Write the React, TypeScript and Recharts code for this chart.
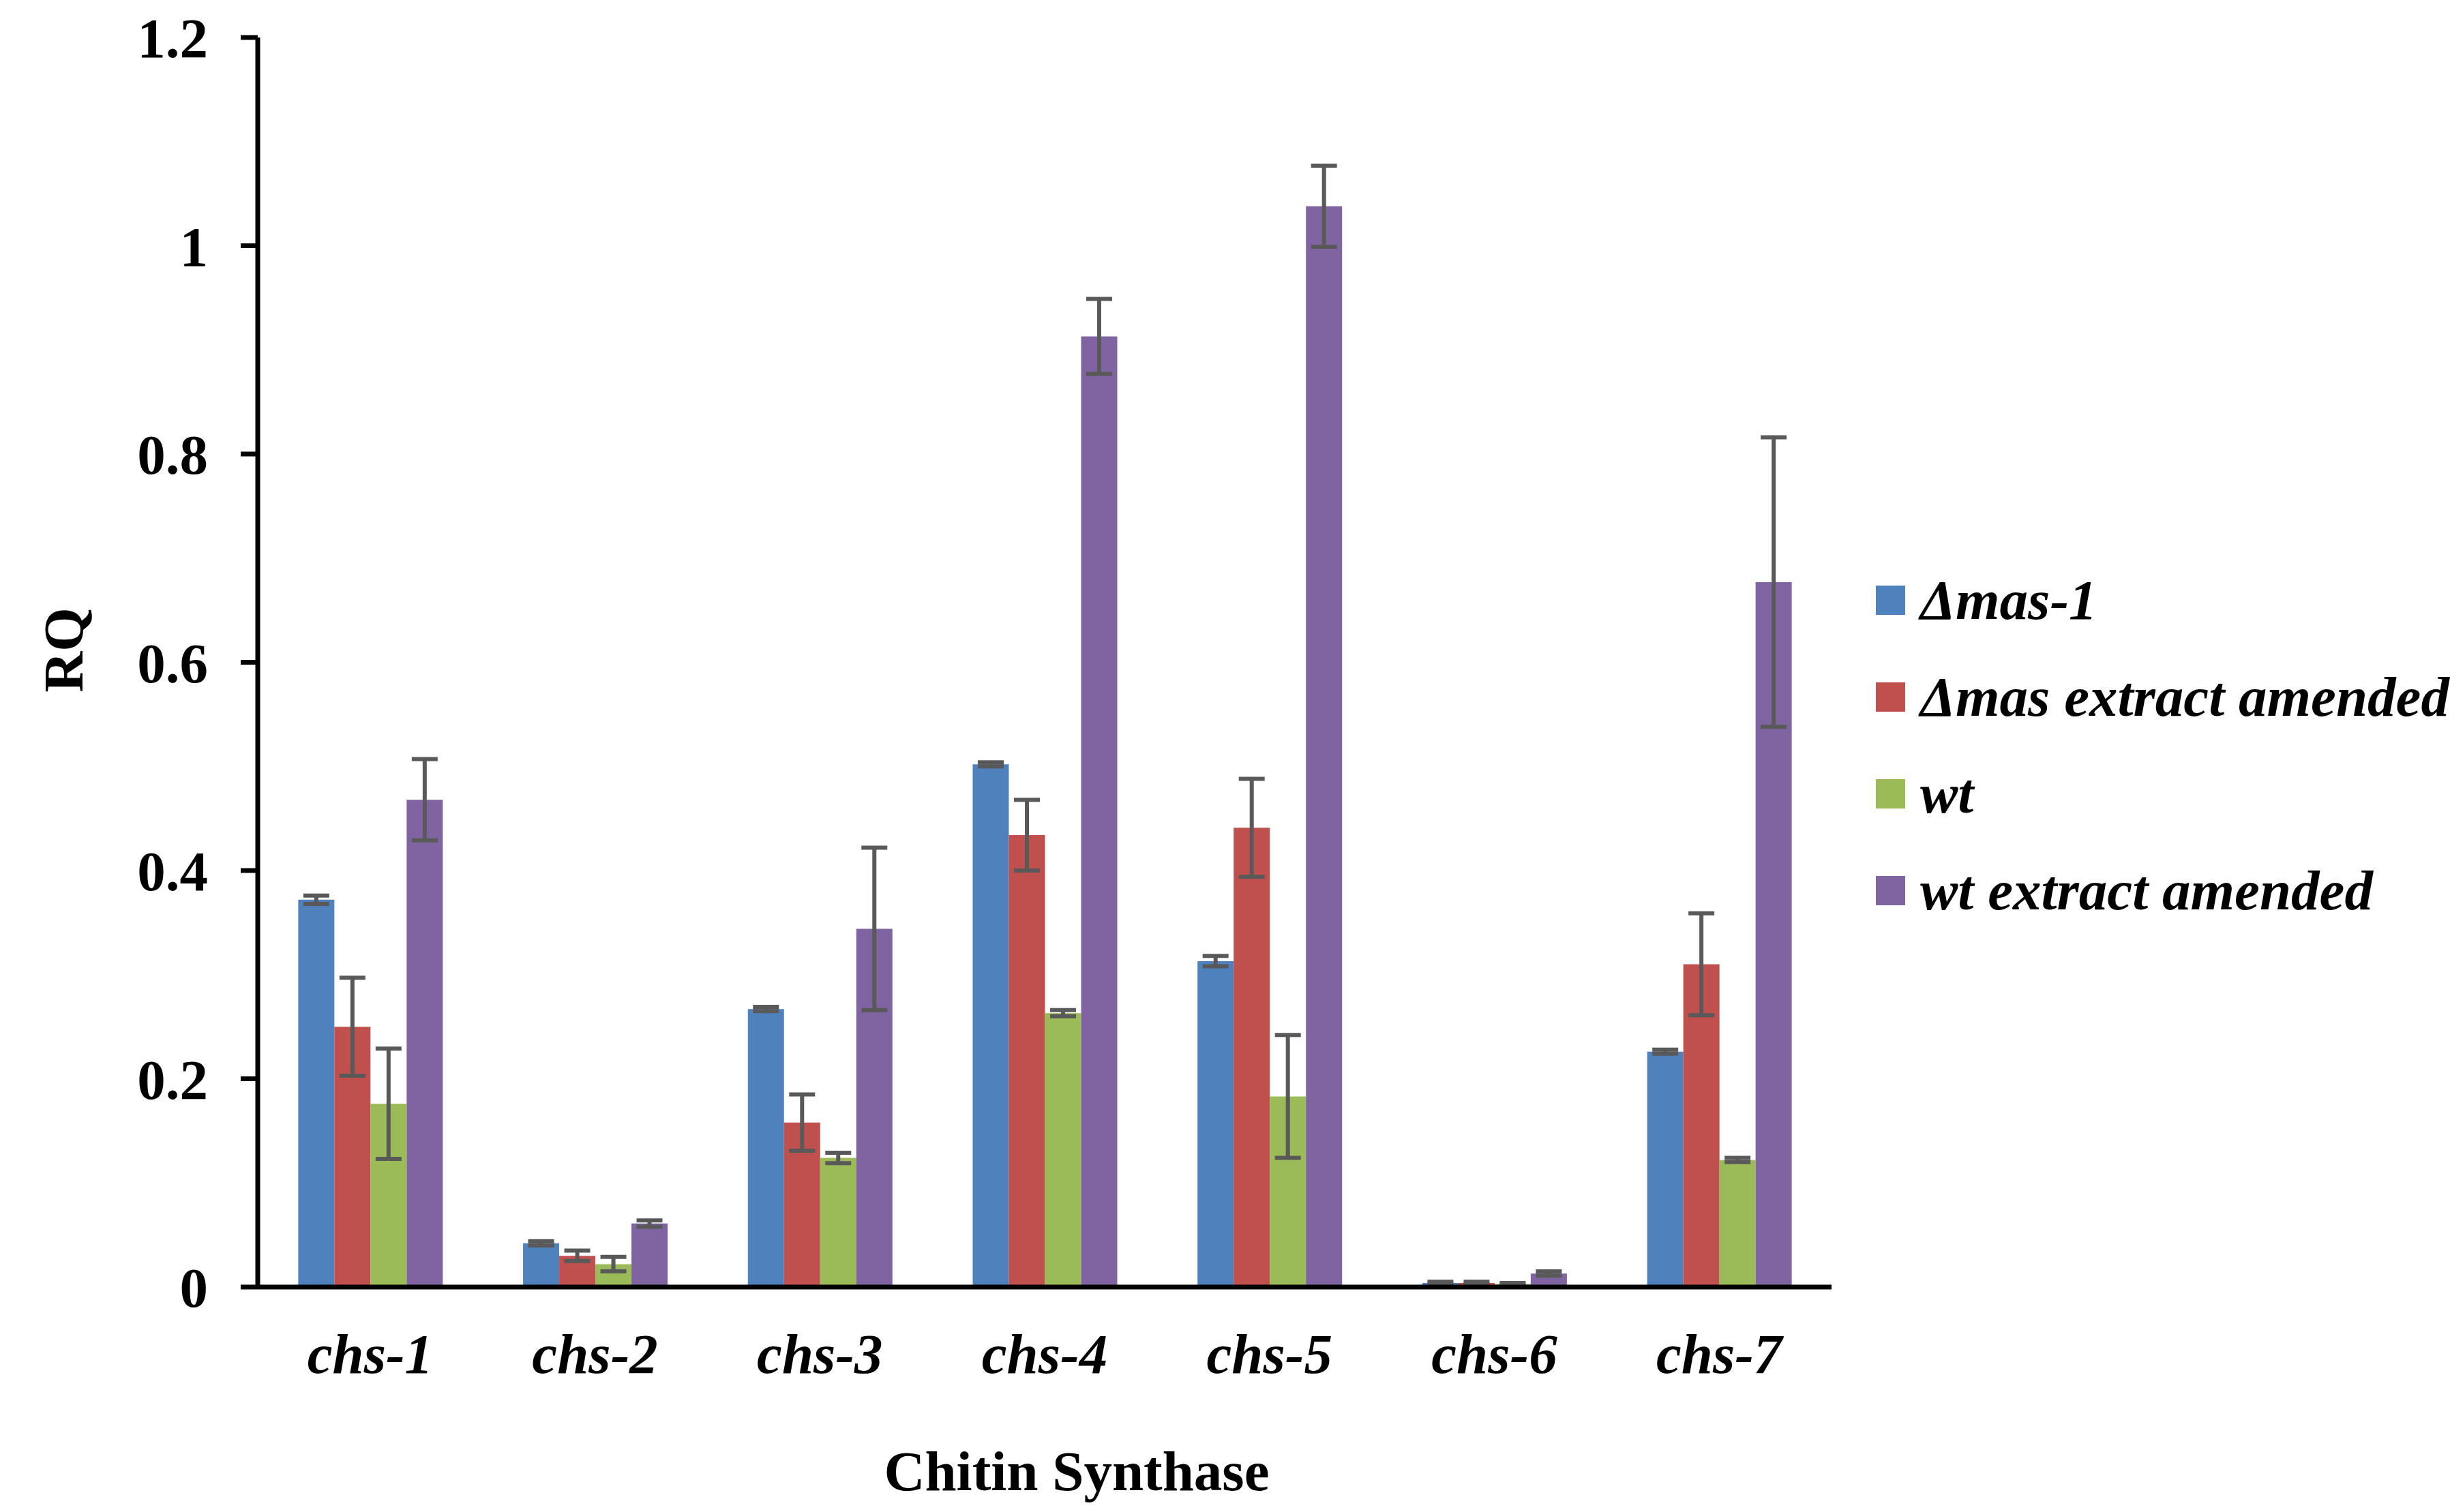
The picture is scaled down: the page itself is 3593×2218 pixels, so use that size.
import React from 'react';
import { BarChart, Bar, XAxis, YAxis, ErrorBar, Legend } from 'recharts';

const categories = ['chs-1', 'chs-2', 'chs-3', 'chs-4', 'chs-5', 'chs-6', 'chs-7'];

const seriesNames = ['Δmas-1', 'Δmas extract amended', 'wt', 'wt extract amended'];
const seriesColors = ['#4F81BD', '#C0504D', '#9BBB59', '#8064A2'];

const mas1 = [0.372, 0.042, 0.267, 0.502, 0.313, 0.004, 0.226];
const mas1Err = [0.004, 0.002, 0.002, 0.002, 0.005, 0.001, 0.002];
const masExtract = [0.25, 0.03, 0.158, 0.434, 0.441, 0.004, 0.31];
const masExtractErr = [0.047, 0.005, 0.027, 0.034, 0.047, 0.001, 0.049];
const wt = [0.176, 0.022, 0.124, 0.263, 0.183, 0.003, 0.122];
const wtErr = [0.053, 0.007, 0.005, 0.003, 0.059, 0.001, 0.002];
const wtExtract = [0.468, 0.061, 0.344, 0.913, 1.038, 0.013, 0.677];
const wtExtractErr = [0.039, 0.003, 0.078, 0.036, 0.039, 0.002, 0.139];

const yTicks = [0, 0.2, 0.4, 0.6, 0.8, 1, 1.2];

const seriesKeys = ['mas1', 'masExtract', 'wt', 'wtExtract'];

const data = categories.map((name, i) => ({
    name,
    mas1: mas1[i],
    mas1Err: mas1Err[i],
    masExtract: masExtract[i],
    masExtractErr: masExtractErr[i],
    wt: wt[i],
    wtErr: wtErr[i],
    wtExtract: wtExtract[i],
    wtExtractErr: wtExtractErr[i],
}));

const FONT = '"Liberation Serif", "Times New Roman", serif';
const FONT_SIZE = 83;

const renderLegend = () => (
    <div style={{ fontFamily: FONT, fontWeight: 'bold', fontStyle: 'italic', fontSize: FONT_SIZE }}>
        {seriesNames.map((label, i) => (
            <div
                key={label}
                style={{ display: 'flex', alignItems: 'center', height: 142, whiteSpace: 'nowrap' }}
            >
                <span style={{ display: 'inline-block', width: 43, height: 43, background: seriesColors[i], marginRight: 22 }} />
                <span>{label}</span>
            </div>
        ))}
    </div>
);

const renderXTitle = (props: any) => {
    const { viewBox } = props;
    return (
        <text
            x={viewBox.x + viewBox.width / 2 + 47}
            y={viewBox.y + 298}
            textAnchor="middle"
            fontFamily={FONT}
            fontWeight="bold"
            fontSize={FONT_SIZE}
            fill="#000"
        >
            Chitin Synthase
        </text>
    );
};

const renderYTitle = (props: any) => {
    const { viewBox } = props;
    const x = viewBox.x + 15;
    const y = viewBox.y + viewBox.height / 2 - 18;
    return (
        <text
            x={x}
            y={y}
            transform={`rotate(-90, ${x}, ${y})`}
            textAnchor="middle"
            dominantBaseline="central"
            fontFamily={FONT}
            fontWeight="bold"
            fontSize={FONT_SIZE}
            fill="#000"
        >
            RQ
        </text>
    );
};

const App: React.FC = () => {
    return (
        <div style={{ position: 'absolute', left: 0, top: 0, width: 3593, height: 2218, overflow: 'hidden', background: '#fff' }}>
            <BarChart
                width={3593}
                height={2218}
                data={data}
                margin={{ top: 55, right: 907, bottom: 30, left: 78 }}
                barGap={0}
                barCategoryGap="18%"
            >
                <XAxis
                    dataKey="name"
                    height={300}
                    axisLine={{ stroke: '#000', strokeWidth: 7 }}
                    tickLine={false}
                    tickSize={0}
                    tickMargin={67}
                    tick={{ fontFamily: FONT, fontWeight: 'bold', fontStyle: 'italic', fontSize: FONT_SIZE, fill: '#000' }}
                    label={renderXTitle}
                />
                <YAxis
                    width={300}
                    domain={[0, 1.2]}
                    ticks={yTicks}
                    interval={0}
                    axisLine={{ stroke: '#000', strokeWidth: 7 }}
                    tickLine={{ stroke: '#000', strokeWidth: 7 }}
                    tickSize={25}
                    tickMargin={48}
                    tick={{ fontFamily: FONT, fontWeight: 'bold', fontSize: FONT_SIZE, fill: '#000' }}
                    label={renderYTitle}
                />
                <Legend
                    layout="vertical"
                    align="center"
                    verticalAlign="middle"
                    content={renderLegend}
                    wrapperStyle={{ left: 2751, top: 809, width: 900, height: 568 }}
                />
                {seriesKeys.map((key, i) => (
                    <Bar key={key} dataKey={key} name={seriesNames[i]} fill={seriesColors[i]} isAnimationActive={false}>
                        <ErrorBar dataKey={`${key}Err`} width={19} strokeWidth={6} stroke="#595959" direction="y" />
                    </Bar>
                ))}
            </BarChart>
        </div>
    );
};

export default App;
